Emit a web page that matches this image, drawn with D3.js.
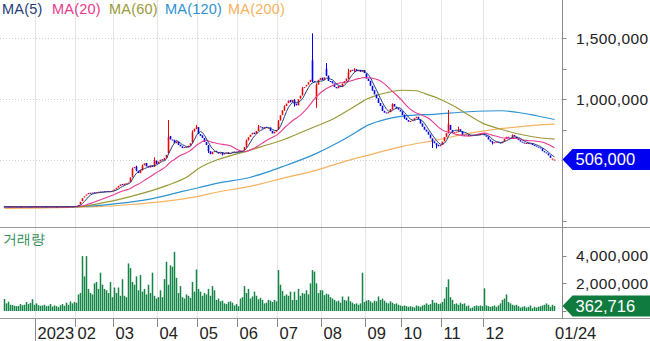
<!DOCTYPE html>
<html><head><meta charset="utf-8">
<script src="https://cdn.jsdelivr.net/npm/d3@7"></script>
<style>
html,body{margin:0;padding:0;background:#fff;}
svg{display:block;}
text{font-family:"Liberation Sans Narrow","Liberation Sans",Arial,sans-serif;}
</style></head><body>
<svg id="c" width="650" height="341"></svg>
<script>
// ---------- DATA (prices in thousand won, volumes in million shares) ----------
const closes = [
120,121,120,119,120,121,120,120,119,120,
121,120,120,119,120,121,120,120,121,120,
120,119,120,121,120,120,119,120,121,120,
120,121,120,122,121,123,125,135,160,190,
205,220,232,226,235,230,238,242,236,244,
240,247,241,246,252,262,275,290,302,296,
308,312,318,360,430,445,415,395,420,455,
475,450,440,455,445,500,470,490,505,500,
520,545,690,670,665,640,655,625,615,600,
610,605,620,640,730,760,775,715,700,683,
650,625,575,550,570,575,568,555,562,548,
560,565,552,560,570,565,572,568,575,580,
610,660,690,710,725,715,740,775,770,760,
772,765,768,740,720,735,750,820,870,910,
940,965,990,975,995,960,950,1000,1030,1090,
1100,1117,1140,1160,1150,1140,1120,1160,1175,1158,
1180,1195,1150,1145,1130,1100,1090,1110,1100,1130,
1150,1170,1220,1240,1235,1245,1230,1240,1225,1240,
1215,1170,1150,1110,1070,1040,1008,970,945,905,
890,885,895,920,960,940,925,915,900,871,
850,830,816,822,830,845,857,835,800,775,
750,735,710,680,653,640,625,615,625,653,
690,723,800,748,723,730,735,755,740,710,
705,712,700,708,703,710,705,712,715,720,
705,693,670,653,640,648,653,645,640,653,
675,693,685,680,707,695,680,665,653,645,
640,642,638,640,625,620,612,605,598,575,
565,557,540,520,515,506];

const opens = [
121,120,121,120,119,120,121,120,120,119,
120,121,120,120,119,120,121,120,120,121,
120,120,119,120,121,120,120,119,120,121,
120,120,121,120,122,121,123,126,138,165,
195,210,222,234,226,238,230,236,244,236,
246,240,248,240,246,250,262,276,290,305,
296,310,312,320,365,435,450,415,395,420,
458,478,452,440,458,448,498,470,490,508,
500,520,560,700,670,668,640,655,628,615,
600,612,605,620,645,735,760,772,715,705,
683,650,622,575,550,570,578,568,555,565,
548,560,566,552,560,572,565,574,568,575,
582,612,662,692,712,728,715,742,778,772,
758,775,765,770,742,720,735,752,825,872,
912,945,968,995,975,998,965,950,1005,1035,
1092,1105,1120,1142,1320,1150,1000,1120,1160,1178,
1158,1250,1195,1150,1148,1130,1100,1090,1112,1100,
1130,1150,1172,1222,1242,1235,1248,1230,1242,1225,
1240,1212,1170,1152,1110,1075,1040,1010,970,948,
905,892,885,895,920,962,940,928,915,902,
871,850,830,816,822,830,845,857,835,802,
775,752,735,712,680,655,640,628,615,625,
655,692,725,790,748,723,730,738,755,740,
710,705,712,700,708,703,712,705,712,715,
722,705,695,670,655,640,648,653,645,640,
653,675,693,685,680,707,695,680,665,653,
645,640,642,638,640,625,620,612,605,598,
575,565,557,540,505,500];

// notable wicks: [day, high, low]
const wicks = [
[64,440,360],[66,455,410],[69,465,415],[75,525,445],[82,830,555],[94,745,640],
[96,790,755],[102,625,560],[109,565,540],[121,670,605],[127,790,740],[137,830,750],
[140,950,905],[145,1000,940],[149,1100,1030],[154,1540,1140],[156,1130,930],
[161,1297,1190],[172,1250,1165],[175,1255,1225],[194,967,915],[200,875,840],
[214,665,600],[216,640,598],[222,912,720],[227,775,730],[244,655,630],[254,712,678]];

const volumes = [
0.87,0.55,0.67,0.45,0.43,0.38,0.35,0.36,0.50,0.42,
0.45,0.65,0.50,0.58,0.85,0.45,0.55,0.42,0.38,0.40,
0.45,0.35,0.38,0.50,0.32,0.40,0.35,0.28,0.42,0.50,
0.38,0.60,0.45,0.70,0.55,0.65,0.60,1.20,1.30,3.97,
2.50,3.97,1.60,1.30,1.20,2.00,2.10,1.60,2.77,1.90,
1.60,1.50,1.30,2.10,1.00,1.70,1.30,1.70,1.10,2.30,
1.10,1.00,3.44,3.10,2.10,1.90,2.50,1.50,2.60,1.40,
1.60,1.20,1.90,1.30,2.77,1.10,0.90,1.00,1.50,1.00,
2.30,3.56,1.90,3.30,3.20,4.28,2.40,1.30,1.80,1.00,
0.90,1.20,1.10,0.95,2.10,1.40,3.00,1.60,1.40,1.10,
1.30,1.20,1.60,1.10,1.80,1.50,0.80,0.90,0.70,0.75,
0.55,0.50,0.65,0.70,0.60,0.40,0.50,0.35,0.90,1.00,
1.80,1.30,1.60,0.90,1.05,1.40,1.10,0.85,0.95,0.80,
0.55,0.60,0.80,0.75,0.65,0.80,0.70,2.96,1.90,1.45,
1.10,1.20,1.10,1.40,0.80,1.40,0.80,1.60,1.10,1.30,
1.25,1.50,1.20,2.00,2.96,2.85,2.00,1.30,1.50,1.50,
1.15,1.25,1.20,1.00,0.90,0.80,0.70,0.75,0.60,1.05,
0.80,0.75,1.05,0.70,0.60,0.50,0.55,0.45,0.55,2.77,
0.65,0.75,0.80,0.70,0.60,0.75,0.70,1.05,0.80,0.90,
0.75,0.60,0.55,0.70,0.60,0.50,0.55,0.45,0.40,0.35,
0.40,0.35,0.30,0.35,0.30,0.25,0.40,0.35,0.30,0.40,
0.45,0.55,0.45,0.50,0.80,0.60,0.60,0.50,0.55,0.65,
0.90,1.73,2.29,1.00,0.80,0.50,0.55,0.45,0.60,0.50,
0.55,0.35,0.40,0.20,0.25,0.35,0.40,0.35,0.40,0.35,
1.64,0.40,0.35,0.30,0.35,0.40,0.30,0.40,0.55,0.80,
0.90,1.20,0.65,0.55,0.45,0.40,0.45,0.35,0.25,0.30,
0.35,0.25,0.30,0.40,0.20,0.30,0.25,0.30,0.35,0.40,
0.45,0.55,0.45,0.30,0.45,0.362716];

// long moving averages: [day, value]
const ma60Pts = [[0,120],[37,121],[47,145],[64,207],[81,292],[92,372],[97,432],[106,502],[114,543],[122,579],[131,625],[139,666],[147,720],[156,781],[164,836],[172,912],[177,962],[181,1000],[186,1032],[191,1054],[199,1074],[206,1070],[209,1054],[217,1007],[226,932],[232,871],[239,805],[247,761],[256,720],[264,693],[275,673]];
const ma120Pts = [[0,115],[37,120],[56,145],[72,180],[89,245],[97,275],[106,311],[122,357],[139,448],[156,557],[172,693],[182,790],[191,838],[199,862],[216,879],[232,898],[249,906],[257,892],[266,865],[275,834]];
const ma200Pts = [[0,106],[47,120],[64,139],[81,166],[97,205],[106,238],[122,284],[139,352],[156,420],[172,500],[182,543],[191,582],[199,614],[216,666],[232,720],[249,761],[266,789],[275,797]];

const monthStarts = [16,36,55,77,97,117,137,159,181,199,219,240];
const monthLabels = ["2023","02","03","04","05","06","07","08","09","10","11","12"];
const lastDateLabel = "01/24";
const priceTicks = [1500000,1000000];
const priceGrid = [1500000,1000000,500000];
const priceMinor = [1250000,750000,0];
const volTicks = [4000000,2000000];
const maNames = ["MA(5)","MA(20)","MA(60)","MA(120)","MA(200)"];
const maColors = ["#24407a","#e83a8e","#9a9a38","#2e93d1","#f6b35f"];
const volLabel = "거래량";

// ---------- LAYOUT ----------
const W=650,H=341, axisX=562.5;
const svg=d3.select("#c");
const x=d3.scaleLinear().domain([0,closes.length-1]).range([4.5,554.5]);
const yP=d3.scaleLinear().domain([0,1500000]).range([221.3,38.3]);
const yV=d3.scaleLinear().domain([0,4000000]).range([311,255.7]);
const fmt=d3.format(",");
const K=1000, M=1e6;

svg.append("defs").append("clipPath").attr("id","pc").append("rect").attr("x",0).attr("y",0).attr("width",562).attr("height",227);

// vertical grid
const gx = i => Math.round(x(i)-0.5)-0.5;
svg.append("g").selectAll("line").data(monthStarts).join("line")
  .attr("x1",gx).attr("x2",gx).attr("y1",0).attr("y2",319)
  .attr("stroke","#e4e4e4").attr("stroke-width",1);
// horizontal dotted price grid
svg.append("g").selectAll("line").data(priceGrid).join("line")
  .attr("x1",0).attr("x2",562).attr("y1",d=>Math.round(yP(d))+0.5).attr("y2",d=>Math.round(yP(d))+0.5)
  .attr("stroke","#cfcfcf").attr("stroke-dasharray","1,2");

// panel lines
svg.append("line").attr("x1",0).attr("x2",W).attr("y1",227.5).attr("y2",227.5).attr("stroke","#9a9a9a");
svg.append("line").attr("x1",0).attr("x2",W).attr("y1",318.5).attr("y2",318.5).attr("stroke","#9a9a9a");
svg.append("line").attr("x1",axisX).attr("x2",axisX).attr("y1",0).attr("y2",319).attr("stroke","#8a8a8a");

// month ticks + labels
svg.append("g").selectAll("line").data(monthStarts).join("line")
  .attr("x1",gx).attr("x2",gx).attr("y1",319)
  .attr("y2",(d,k)=>monthLabels[k].length===4?341:327)
  .attr("stroke","#8a8a8a");
svg.append("g").selectAll("text").data(monthStarts).join("text")
  .attr("x",d=>gx(d)+2).attr("y",339).attr("font-size",16.5).attr("fill","#222")
  .text((d,k)=>monthLabels[k]);
svg.append("text").attr("x",axisX-7.5).attr("y",339).attr("font-size",16.5).attr("fill","#222").text(lastDateLabel);

// price plot
const plot=svg.append("g").attr("clip-path","url(#pc)");
const line=d3.line().x(d=>x(d[0])).y(d=>yP(d[1]*K));
const lineS=d3.line().x(d=>x(d[0])).y(d=>yP(d[1]*K)).curve(d3.curveMonotoneX);
const sma=(arr,n)=>arr.map((_,i)=>[i,d3.mean(arr.slice(Math.max(0,i-n+1),i+1))]);
const ma5=sma(closes,5), ma20=sma(closes,20);

plot.append("path").datum(ma200Pts).attr("d",lineS).attr("fill","none").attr("stroke",maColors[4]).attr("stroke-width",1.2);
plot.append("path").datum(ma120Pts).attr("d",lineS).attr("fill","none").attr("stroke",maColors[3]).attr("stroke-width",1.2);
plot.append("path").datum(ma60Pts).attr("d",lineS).attr("fill","none").attr("stroke",maColors[2]).attr("stroke-width",1.2);

const wickMap=new Map(wicks.map(w=>[w[0],w]));
const cg=plot.append("g");
closes.forEach((c,i)=>{
  const o=opens[i], up=c>=o, col=up?"#f00000":"#0000f0";
  const w=wickMap.get(i);
  if(w){
    cg.append("line").attr("x1",x(i)).attr("x2",x(i)).attr("y1",yP(w[1]*K)).attr("y2",yP(w[2]*K)).attr("stroke",col).attr("stroke-width",1);
  }
  const y1=yP(Math.max(o,c)*K), y2=yP(Math.min(o,c)*K);
  cg.append("rect").attr("x",x(i)-0.8).attr("width",1.6).attr("y",y1).attr("height",Math.max(1,y2-y1)).attr("fill",col);
});

plot.append("path").datum(ma20).attr("d",line).attr("fill","none").attr("stroke",maColors[1]).attr("stroke-width",1.1);
plot.append("path").datum(ma5).attr("d",line).attr("fill","none").attr("stroke",maColors[0]).attr("stroke-width",1);

// volume bars
svg.append("g").selectAll("rect").data(volumes).join("rect")
  .attr("x",(d,i)=>x(i)-0.75).attr("width",1.5)
  .attr("y",d=>yV(d*M)).attr("height",d=>yV(0)-yV(d*M))
  .attr("fill","#138544");

// right axis ticks/labels
const tk=(v,ys)=>svg.append("line").attr("x1",axisX).attr("x2",axisX+4).attr("y1",Math.round(ys(v))+0.5).attr("y2",Math.round(ys(v))+0.5).attr("stroke","#8a8a8a");
priceTicks.concat(priceMinor).forEach(v=>tk(v,yP));
volTicks.forEach(v=>tk(v,yV));
tk(0,yV);
svg.append("g").selectAll("text").data(priceTicks).join("text")
  .attr("x",576).attr("y",d=>yP(d)+5.5).attr("font-size",15.5).attr("letter-spacing",0.4).attr("fill","#222").text(fmt);
svg.append("g").selectAll("text").data(volTicks).join("text")
  .attr("x",576).attr("y",d=>yV(d)+5.5).attr("font-size",15.5).attr("letter-spacing",0.4).attr("fill","#222").text(fmt);

// value tags
function tag(yv,fill,label){
  const h=10.5;
  svg.append("polygon").attr("points",[[axisX,yv],[axisX+10,yv-h],[W,yv-h],[W,yv+h],[axisX+10,yv+h]].map(p=>p.join(",")).join(" ")).attr("fill",fill);
  svg.append("text").attr("x",axisX+13).attr("y",yv+5.8).attr("font-size",16.5).attr("fill","#fff").text(label);
}
const lastClose=closes[closes.length-1]*K, lastVol=Math.round(volumes[volumes.length-1]*M);
tag(yP(lastClose),"#0000f0",fmt(lastClose));
tag(yV(lastVol),"#0f7b3f",fmt(lastVol));

// legend
const legX=[2,52,109,165,228];
svg.append("g").selectAll("text").data(maNames).join("text")
  .attr("x",(d,k)=>legX[k]).attr("y",14).attr("font-size",14.5)
  .attr("font-family","'Liberation Sans',Arial,sans-serif").attr("letter-spacing",0.2)
  .attr("fill",(d,k)=>maColors[k]).text(d=>d);

svg.append("text").attr("x",3).attr("y",244).attr("font-size",14)
  .attr("font-family","'Noto Sans CJK KR',sans-serif").attr("fill","#2e8b57").text(volLabel);
</script>
</body></html>
